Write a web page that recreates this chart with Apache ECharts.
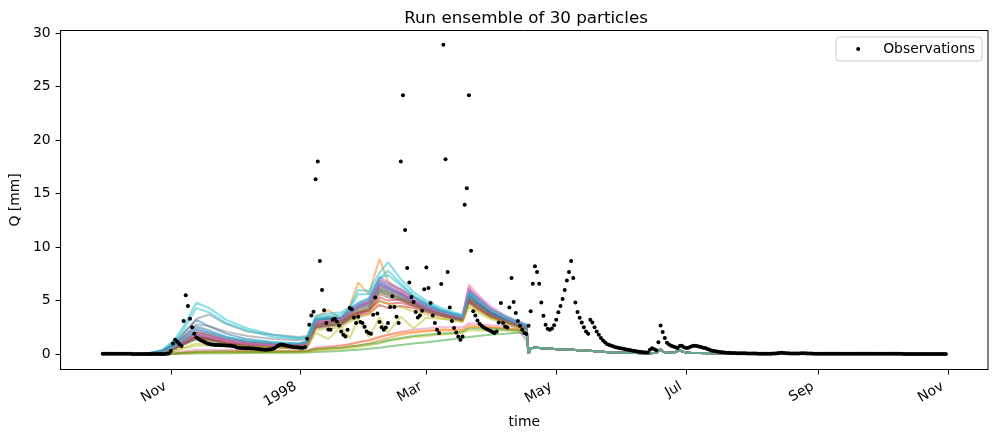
<!DOCTYPE html>
<html>
<head>
<meta charset="utf-8">
<script src="https://cdn.jsdelivr.net/npm/echarts@6/dist/echarts.min.js"></script>
<style>
  html, body { margin: 0; padding: 0; background: #fff; }
  #chart { width: 997px; height: 439px; }
</style>
</head>
<body>
<div id="chart"></div>
<script>
// daily observations, first value is 30 Sep 1997
var obsOct97 = [0.04,0.04,0.04,0.03,0.03,0.03,0.03,0.03,0.03,0.03,0.03,0.03,0.03,0.03,0.02,0.02,0.02,0.02,0.02,0.02,0.02,0.02,0.02,0.02,0.02,0.02,0.02,0.02,0.02,0.02,0.03,0.05];
var obsNov97 = [0.3,1.0,1.35,1.15,0.95,0.75,3.1,5.5,4.5,3.3,2.5,1.9,1.55,1.4,1.3,1.2,1.1,1.0,0.95,0.9,0.88,0.86,0.85,0.85,0.83,0.82,0.8,0.8,0.78,0.75];
var obsDec97 = [0.7,0.62,0.6,0.58,0.56,0.55,0.55,0.54,0.53,0.52,0.5,0.48,0.45,0.42,0.4,0.4,0.42,0.45,0.5,0.6,0.75,0.85,0.9,0.85,0.8,0.75,0.7,0.68,0.65,0.65,0.62];
var obsJan98 = [0.6,0.6,0.65,1.43,2.74,3.6,3.95,16.35,18.0,8.7,6.0,4.1,2.9,2.3,2.27,3.2,3.3,3.05,2.67,2.1,1.8,1.65,2.27,4.3,4.2,3.4,2.9,3.5,3.0,2.9,2.55];
var obsFeb98 = [2.1,1.96,1.9,3.67,5.3,3.8,3.0,2.52,2.27,2.49,2.9,4.4,5.4,4.4,3.49,2.9,18.0,24.2,11.6,8.04,6.7,5.33,4.86,3.93,3.42,3.6,4.05,6.07];
var obsMar98 = [8.1,6.17,4.77,3.6,2.9,2.27,1.96,6.54,28.9,18.2,7.66,4.36,3.1,2.43,2.02,1.65,1.34,1.65,13.95,15.5,24.2,9.65,4.0,3.6,3.14,2.83,2.64,2.49,2.36,2.27,2.18];
var obsApr98 = [2.06,1.96,2.1,2.95,4.77,2.9,2.58,2.49,4.36,7.1,4.86,3.83,3.1,2.64,2.27,1.96,1.87,2.64,4.0,6.57,8.2,7.66,6.57,4.82,3.58,2.74,2.36,2.27,2.4,2.7];
var obsMay98 = [3.2,3.9,4.5,5.14,6.0,6.88,7.66,8.69,7.1,4.82,3.93,3.39,2.95,2.52,2.11,1.9,3.2,2.95,2.52,2.11,1.8,1.5,1.27,1.08,0.93,0.85,0.78,0.7,0.64,0.59,0.55];
var obsJun98 = [0.52,0.48,0.44,0.4,0.36,0.32,0.28,0.25,0.22,0.2,0.18,0.16,0.15,0.4,0.55,0.45,0.35,1.1,2.67,2.06,1.5,1.05,0.9,0.78,0.7,0.65,0.58,0.75,0.78,0.65];
var obsJul98 = [0.58,0.6,0.68,0.75,0.78,0.75,0.7,0.66,0.6,0.56,0.48,0.4,0.34,0.3,0.26,0.22,0.2,0.18,0.15,0.13,0.12,0.11,0.1,0.1,0.09,0.08,0.08,0.07,0.07,0.06,0.06];
var obsAug98 = [0.05,0.05,0.05,0.04,0.04,0.04,0.04,0.04,0.04,0.04,0.05,0.06,0.08,0.1,0.12,0.1,0.08,0.07,0.06,0.05,0.05,0.05,0.06,0.08,0.09,0.08,0.06,0.05,0.05,0.04,0.04];
var obsSep98 = [0.04,0.04,0.04,0.04,0.04,0.03,0.03,0.03,0.03,0.03,0.03,0.03,0.03,0.03,0.03,0.03,0.03,0.03,0.03,0.03,0.03,0.03,0.03,0.03,0.03,0.03,0.03,0.03,0.03,0.03];
var obsOct98 = [0.03,0.03,0.03,0.03,0.03,0.03,0.03,0.03,0.03,0.03,0.02,0.02,0.02,0.02,0.02,0.02,0.02,0.02,0.02,0.02,0.02,0.02,0.02,0.02,0.02,0.02,0.02,0.02,0.02,0.02,0.02];

// particle runs: values on these days (days after 30 Sep 1997)
var runDays = [0,20,28,34,38,44,50,58,68,80,92,96,100,106,112,116,120,125,130,134,140,146,152,158,165,169,172,176,182,189,195,199];
var particles = [
  [0,0,0.3,1.1,2.0,3.2,2.6,1.9,1.4,1.1,1.0,1.2,3.2,3.4,3.3,4.2,4.8,5.2,6.9,6.5,6.0,5.3,4.7,4.2,3.7,3.5,5.6,4.8,3.9,3.3,2.9,2.6],
  [0,0,0.2,0.7,1.2,1.9,1.6,1.2,0.9,0.8,0.7,0.9,3.4,4.1,3.3,4.5,6.7,5.6,8.9,6.8,5.9,5.0,4.4,4.0,3.6,3.5,6.3,5.0,4.0,3.3,2.8,2.5],
  [0,0,0,0.02,0.04,0.06,0.08,0.09,0.1,0.12,0.13,0.14,0.2,0.25,0.3,0.35,0.4,0.5,0.6,0.7,0.85,1.0,1.1,1.25,1.4,1.5,1.6,1.7,1.8,1.9,2.0,1.9],
  [0,0,0.2,0.6,1.0,1.6,1.4,1.0,0.8,0.7,0.6,0.8,2.5,2.7,2.8,3.3,3.6,3.8,4.6,4.3,4.5,4.3,3.9,3.6,3.3,3.1,4.9,4.2,3.5,3.0,2.6,2.3],
  [0,0,0.2,0.7,1.3,2.0,1.7,1.3,1.0,0.85,0.8,1.0,2.9,3.1,3.2,3.9,4.4,4.8,6.4,6.1,5.6,4.9,4.3,3.9,3.5,3.3,5.9,5.2,4.1,3.1,2.3,1.3],
  [0,0,0.15,0.6,1.0,1.6,1.4,1.1,0.85,0.7,0.65,0.8,2.5,2.7,2.8,3.4,3.9,4.3,5.8,5.5,5.1,4.6,4.1,3.8,3.4,3.2,5.0,4.3,3.5,3.0,2.6,2.3],
  [0,0,0.05,0.15,0.25,0.4,0.4,0.38,0.35,0.32,0.3,0.35,0.6,0.7,0.8,0.95,1.1,1.3,1.6,1.8,2.1,2.3,2.4,2.5,2.5,2.5,2.9,2.8,2.7,2.6,2.5,2.4],
  [0,0,0.3,1.0,1.9,3.3,3.7,2.8,2.1,1.8,1.6,1.7,3.3,3.5,3.4,4.0,4.5,4.9,6.3,6.0,5.5,4.9,4.4,4.0,3.6,3.4,5.4,4.7,3.8,3.2,2.8,2.5],
  [0,0,0.1,0.3,0.5,0.8,0.8,0.7,0.6,0.55,0.5,0.6,2.0,1.4,2.6,1.5,3.3,1.6,3.4,2.0,3.5,2.4,3.4,3.3,3.2,3.1,4.4,3.9,3.3,2.9,2.5,2.2],
  [0,0,0.4,1.4,2.6,4.8,4.3,3.2,2.4,1.8,1.5,1.6,3.6,3.8,3.9,4.4,6.0,5.9,7.6,8.6,7.0,5.8,5.0,4.4,3.9,3.7,5.9,5.3,4.3,3.6,3.1,2.8],
  [0,0,0.2,0.6,1.1,1.8,1.5,1.2,0.9,0.8,0.7,0.9,2.9,3.1,3.1,3.8,4.4,4.8,6.6,6.2,5.7,5.0,4.5,4.1,3.7,3.5,5.7,4.9,3.9,3.3,2.9,2.6],
  [0,0,0.02,0.05,0.1,0.15,0.17,0.18,0.2,0.2,0.22,0.25,0.4,0.5,0.6,0.7,0.8,1.0,1.3,1.5,1.8,2.0,2.1,2.2,2.2,2.2,2.5,2.5,2.5,2.4,2.3,2.2],
  [0,0,0.15,0.5,0.9,1.4,1.3,1.0,0.8,0.7,0.6,0.75,2.6,2.8,2.8,3.4,3.9,4.3,5.9,5.6,5.2,4.7,4.2,3.8,3.4,3.2,5.1,4.5,3.7,3.1,2.7,2.4],
  [0,0,0.2,0.7,1.3,2.1,1.8,1.3,1.0,0.85,0.8,1.0,3.0,3.1,3.1,3.6,3.9,4.1,5.0,4.7,4.8,4.5,4.1,3.8,3.4,3.2,5.2,4.5,3.7,3.1,2.7,2.4],
  [0,0,0.25,0.8,1.5,2.4,2.0,1.5,1.1,0.9,0.85,1.0,3.1,3.3,3.4,4.1,4.6,5.0,7.2,6.7,6.1,5.3,4.6,4.1,3.7,3.6,6.1,5.4,4.3,3.5,3.0,2.7],
  [0,0,0.15,0.6,1.1,1.7,1.5,1.1,0.9,0.75,0.7,0.85,2.7,2.9,3.0,3.6,4.1,4.5,6.1,5.8,5.3,4.8,4.3,3.9,3.5,3.3,5.3,4.6,3.8,3.2,2.8,2.5],
  [0,0,0.25,0.8,1.4,2.2,1.9,1.4,1.1,0.9,0.85,1.0,3.0,3.2,3.3,4.0,4.6,5.0,7.0,6.6,6.0,5.2,4.5,4.1,3.7,3.6,6.5,5.6,4.5,3.6,3.0,2.7],
  [0,0,0.3,0.9,1.7,2.8,2.6,2.1,1.7,1.4,1.3,1.4,3.1,3.3,3.3,3.8,4.3,4.6,6.2,5.9,5.4,4.8,4.3,3.9,3.5,3.3,5.2,4.6,3.7,3.1,2.7,2.4],
  [0,0,0.02,0.04,0.07,0.1,0.11,0.12,0.14,0.15,0.17,0.2,0.3,0.4,0.45,0.55,0.65,0.8,1.0,1.2,1.4,1.6,1.7,1.8,1.9,2.0,2.2,2.2,2.2,2.2,2.1,2.0],
  [0,0,0.3,1.2,2.3,4.3,3.9,2.9,2.2,1.6,1.4,1.5,3.4,3.6,3.7,4.2,5.6,5.6,7.1,7.8,6.6,5.5,4.8,4.2,3.8,3.6,5.8,5.2,4.2,3.5,3.0,2.7],
  [0,0,0.3,0.9,1.6,2.6,2.2,1.6,1.2,1.0,0.9,1.1,3.2,3.3,3.3,3.9,4.5,4.9,6.7,6.3,5.7,5.0,4.4,4.0,3.6,3.4,5.5,4.8,3.9,3.3,2.9,2.6],
  [0,0,0.02,0.08,0.15,0.25,0.27,0.28,0.28,0.28,0.28,0.32,0.55,0.65,0.8,0.9,1.1,1.3,1.6,1.8,2.0,2.1,2.2,2.3,2.3,2.3,2.7,2.6,2.5,2.4,2.3,2.2],
  [0,0,0.02,0.06,0.12,0.2,0.22,0.23,0.23,0.23,0.24,0.28,0.45,0.55,0.6,0.7,0.8,0.95,1.1,1.3,1.5,1.7,1.8,1.9,2.0,2.1,2.4,2.4,2.4,2.3,2.2,2.1],
  [0,0,0.15,0.6,1.0,1.6,1.4,1.1,0.85,0.75,0.7,0.85,2.7,2.9,3.0,3.5,3.8,4.0,5.3,5.0,5.1,4.7,4.2,3.8,3.4,3.2,5.0,4.4,3.6,3.0,2.6,2.3],
  [0,0,0.2,0.6,1.1,1.8,1.6,1.2,0.95,0.8,0.75,0.9,2.9,3.0,3.1,3.8,4.4,4.8,6.5,6.1,5.6,4.9,4.3,3.9,3.6,3.4,6.0,5.2,4.2,3.4,2.9,2.6],
  [0,0,0.1,0.5,0.9,1.4,1.2,0.9,0.7,0.6,0.55,0.7,2.4,2.6,2.7,3.2,3.7,4.1,5.6,5.3,5.0,4.5,4.0,3.6,3.3,3.1,4.8,4.2,3.5,3.0,2.6,2.3],
  [0,0,0.2,0.7,1.2,1.9,1.6,1.2,0.95,0.8,0.75,0.9,3.0,3.1,3.2,3.9,4.5,4.9,6.8,6.3,5.8,5.0,4.4,4.0,3.6,3.5,6.1,5.3,4.2,3.4,2.9,2.6],
  [0,0,0.2,0.7,1.2,2.0,1.8,1.4,1.1,0.95,0.9,1.05,2.9,3.0,3.1,3.7,4.2,4.6,6.0,5.7,5.2,4.6,4.1,3.8,3.4,3.2,5.1,4.5,3.7,3.1,2.7,2.4],
  [0,0,0.1,0.3,0.6,1.0,0.95,0.8,0.7,0.6,0.55,0.7,2.2,2.4,2.5,3.0,3.4,3.7,4.9,4.7,4.4,4.0,3.7,3.4,3.1,3.0,4.6,4.1,3.4,2.9,2.5,2.2],
  [0,0,0.2,0.8,1.4,2.3,2.0,1.6,1.3,1.1,1.0,1.2,3.2,3.4,3.5,4.1,4.7,5.2,7.1,7.4,6.4,5.4,4.6,4.1,3.7,3.5,5.7,5.1,4.1,3.4,2.9,2.6]
];
// after mid April all particles follow the same path
var tailDays = [200,201,203,207,212,218,224,230,236,242,250,257,260,262,264,268,271,273,276,280,290,300,315,318,321,330,345,370,396];
var tailVals = [0.05,0.55,0.6,0.55,0.48,0.42,0.35,0.28,0.2,0.15,0.1,0.08,0.12,0.42,0.15,0.12,0.35,0.2,0.12,0.1,0.07,0.05,0.04,0.15,0.05,0.04,0.03,0.02,0.02];

var tab10 = ['#1f77b4','#ff7f0e','#2ca02c','#d62728','#9467bd','#8c564b','#e377c2','#7f7f7f','#bcbd22','#17becf'];
var monthNames = ['Jan','Feb','Mar','Apr','May','Jun','Jul','Aug','Sep','Oct','Nov','Dec'];
var tickDates = [[1997,10],[1998,0],[1998,2],[1998,4],[1998,6],[1998,8],[1998,10]];
var yTicks = [0,5,10,15,20,25,30];

// x axis counts days after 30 Sep 1997
var startDate = new Date(1997, 8, 30);
var DAY = 86400000;
function dateToDay(y, m, d) { return Math.round((new Date(y, m, d).getTime() - startDate.getTime()) / DAY); }

var obsAll = [].concat(obsOct97, obsNov97, obsDec97, obsJan98, obsFeb98, obsMar98, obsApr98,
  obsMay98, obsJun98, obsJul98, obsAug98, obsSep98, obsOct98);
var obsData = obsAll.map(function (v, i) { return [i, v]; });

var seriesList = [];
particles.forEach(function (vals, k) {
  var data = [];
  for (var j = 0; j < runDays.length; j++) data.push([runDays[j], vals[j]]);
  for (var t = 0; t < tailDays.length; t++) data.push([tailDays[t], tailVals[t]]);
  seriesList.push({
    type: 'line',
    name: 'particle ' + k,
    data: data,
    showSymbol: false,
    silent: true,
    lineStyle: { color: tab10[k % 10], width: 2, opacity: 0.5 },
    itemStyle: { color: tab10[k % 10] },
    z: 2
  });
});
seriesList.push({
  type: 'scatter',
  name: 'Observations',
  data: obsData,
  symbol: 'circle',
  symbolSize: 4,
  itemStyle: { color: '#000', opacity: 1 },
  z: 5
});

var tickDays = tickDates.map(function (d) { return dateToDay(d[0], d[1], 1); });
var tickLabels = {};
tickDates.forEach(function (d, i) {
  tickLabels[tickDays[i]] = d[1] === 0 ? String(d[0]) : monthNames[d[1]];
});
var baseFont = { fontFamily: 'DejaVu Sans', fontSize: 13.9, color: '#000' };

var chart = echarts.init(document.getElementById('chart'));
chart.setOption({
  animation: false,
  backgroundColor: '#fff',
  title: {
    text: 'Run ensemble of 30 particles',
    left: 521, top: 5, textAlign: 'center',
    textStyle: { fontFamily: 'DejaVu Sans', fontSize: 16.7, fontWeight: 'normal', color: '#000' }
  },
  legend: {
    data: ['Observations'],
    right: 15, top: 37,
    icon: 'circle', itemWidth: 4, itemHeight: 4,
    padding: [5, 7, 5, 20],
    backgroundColor: 'rgba(255,255,255,0.8)',
    borderColor: '#cccccc', borderWidth: 1, borderRadius: 3,
    textStyle: { fontFamily: 'DejaVu Sans', fontSize: 13.9, color: '#000', padding: [0, 0, 0, 18] }
  },
  grid: { left: 57, right: 9, top: 30.5, bottom: 69.5, show: true, borderColor: '#000', borderWidth: 1, backgroundColor: 'transparent' },
  xAxis: {
    type: 'value',
    min: -19.8, max: 396 + 19.8,
    name: 'time', nameLocation: 'middle', nameGap: 46,
    nameTextStyle: baseFont,
    axisLine: { show: true, onZero: false, lineStyle: { color: '#000', width: 1 } },
    axisTick: { show: true, length: 5, customValues: tickDays, lineStyle: { color: '#000' } },
    axisLabel: {
      customValues: tickDays, rotate: 30, margin: 13, padding: [0, 6, 0, 0],
      fontFamily: 'DejaVu Sans', fontSize: 13.9, color: '#000',
      formatter: function (v) { return tickLabels[Math.round(v)] || ''; }
    },
    splitLine: { show: false }
  },
  yAxis: {
    type: 'value',
    min: -1.44, max: 30.24,
    name: 'Q [mm]', nameLocation: 'middle', nameGap: 34, nameRotate: 90,
    nameTextStyle: baseFont,
    axisLine: { show: true, onZero: false, lineStyle: { color: '#000', width: 1 } },
    axisTick: { show: true, length: 5, customValues: yTicks, lineStyle: { color: '#000' } },
    axisLabel: { customValues: yTicks, margin: 10, fontFamily: 'DejaVu Sans', fontSize: 13.9, color: '#000' },
    splitLine: { show: false }
  },
  series: seriesList
});
</script>
</body>
</html>
